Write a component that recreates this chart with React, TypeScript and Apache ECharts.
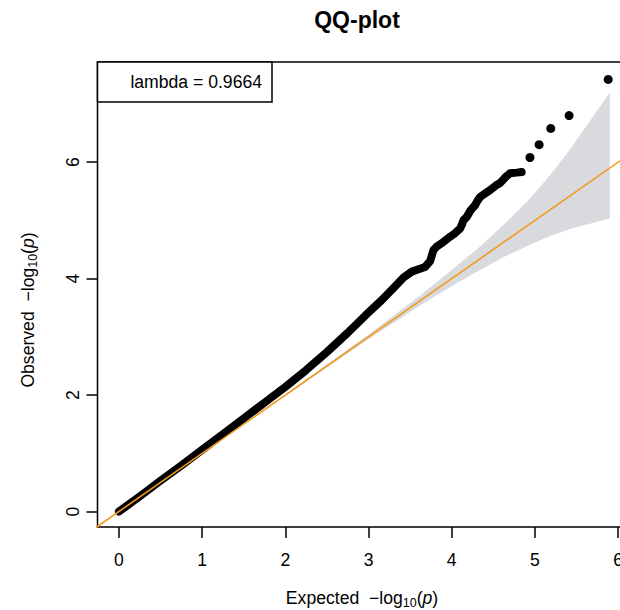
import React, { useEffect, useRef } from "react";
import * as echarts from "echarts";

// Observed vs expected -log10(p) (dense part of the QQ curve)
const obsX = [0, 0.25, 0.5, 0.75, 1.0, 1.25, 1.5, 1.75, 2.0, 2.25, 2.5, 2.75, 3.0, 3.15, 3.3, 3.42, 3.52, 3.6, 3.68, 3.74, 3.78, 3.82, 3.9, 3.98, 4.04, 4.1, 4.12, 4.14, 4.18, 4.23, 4.28, 4.31, 4.34, 4.4, 4.46, 4.54, 4.58, 4.65, 4.7, 4.78, 4.84];
const obsY = [0, 0.26, 0.53, 0.79, 1.06, 1.33, 1.6, 1.87, 2.14, 2.43, 2.74, 3.07, 3.42, 3.62, 3.84, 4.02, 4.12, 4.16, 4.2, 4.3, 4.49, 4.55, 4.63, 4.72, 4.78, 4.86, 4.92, 5.0, 5.06, 5.18, 5.26, 5.34, 5.4, 5.46, 5.52, 5.61, 5.64, 5.75, 5.81, 5.82, 5.83];
// Sparse top points
const tailX = [4.94, 5.05, 5.19, 5.41, 5.88];
const tailY = [6.08, 6.3, 6.58, 6.8, 7.42];
// 95% confidence band
const bandX = [1.5, 2.0, 2.6, 3.0, 3.6, 3.9, 4.31, 4.62, 4.95, 5.2, 5.42, 5.9];
const bandUp = [1.505, 2.012, 2.628, 3.042, 3.689, 4.031, 4.513, 4.919, 5.39, 5.809, 6.216, 7.197];
const bandLo = [1.495, 1.985, 2.574, 2.957, 3.519, 3.787, 4.128, 4.368, 4.59, 4.741, 4.854, 5.033];
// Reference line y = x
const refX = [-0.3, 6.6];
const xTicks = [0, 1, 2, 3, 4, 5, 6];
const yTicks = [0, 2, 4, 6];
const lambdaText = "lambda = 0.9664";
const titleText = "QQ-plot";

const FONT = "'Liberation Sans', Arial, sans-serif";

export default function App() {
  const ref = useRef<HTMLDivElement>(null);
  useEffect(() => {
    if (!ref.current) return;
    const chart = echarts.init(ref.current, null, { renderer: "svg" });
    const xMin = -0.258, xMax = 6.5, yMin = -0.266, yMax = 7.72;
    const pxX = 83.2;
    const gridLeft = 97.5, gridTop = 62, gridH = 465;
    const option: any = {
      animation: false,
      backgroundColor: "#fff",
      grid: {
        left: gridLeft,
        top: gridTop,
        width: (xMax - xMin) * pxX,
        height: gridH,
        show: true,
        borderColor: "#000",
        borderWidth: 1.5,
        backgroundColor: "transparent",
        containLabel: false,
      },
      xAxis: {
        type: "value",
        min: xMin,
        max: xMax,
        axisLine: { show: false, onZero: false },
        axisTick: { show: true, customValues: xTicks, length: 11, inside: false, lineStyle: { color: "#000", width: 1.5 } },
        axisLabel: { customValues: xTicks, margin: 24, fontSize: 17.6, color: "#000", fontFamily: FONT },
        splitLine: { show: false },
      },
      yAxis: {
        type: "value",
        min: yMin,
        max: yMax,
        axisLine: { show: false, onZero: false },
        axisTick: { show: true, customValues: yTicks, length: 11, inside: false, lineStyle: { color: "#000", width: 1.5 } },
        axisLabel: { customValues: yTicks, margin: 16, fontSize: 17.6, color: "#000", fontFamily: FONT, rotate: 90 },
        splitLine: { show: false },
      },
      series: [
        {
          type: "custom",
          z: 1,
          data: [0],
          renderItem: (params: any, api: any) => {
            const pts: number[][] = [];
            for (let i = 0; i < bandX.length; i++) pts.push(api.coord([bandX[i], bandUp[i]]));
            for (let i = bandX.length - 1; i >= 0; i--) pts.push(api.coord([bandX[i], bandLo[i]]));
            return { type: "polygon", shape: { points: pts }, style: { fill: "#D9DADD", stroke: "none" } };
          },
        },
        {
          type: "line",
          z: 2,
          data: obsX.map((x, i) => [x, obsY[i]]),
          showSymbol: false,
          symbol: "none",
          lineStyle: { color: "#000", width: 8, cap: "round", join: "round" },
        },
        {
          type: "scatter",
          z: 3,
          data: tailX.map((x, i) => [x, tailY[i]]),
          symbolSize: 9,
          itemStyle: { color: "#000", opacity: 1 },
        },
        {
          type: "line",
          z: 4,
          data: refX.map((x) => [x, x]),
          showSymbol: false,
          symbol: "none",
          lineStyle: { color: "#F39A1E", width: 1.6 },
        },
      ],
      graphic: [
        {
          type: "rect",
          z: 10,
          shape: { x: gridLeft, y: gridTop, width: 174.5, height: 40 },
          style: { fill: "#fff", stroke: "#000", lineWidth: 1.5 },
        },
        {
          type: "text",
          z: 11,
          x: 262,
          y: 82,
          style: { text: lambdaText, fontSize: 17.6, fontFamily: FONT, fill: "#000", align: "right", verticalAlign: "middle" },
        },
        {
          type: "text",
          x: 357,
          y: 20,
          style: { text: titleText, fontSize: 23, fontWeight: "bold", fontFamily: FONT, fill: "#000", align: "center", verticalAlign: "middle" },
        },
        {
          type: "text",
          x: 362,
          y: 598,
          style: {
            text: "{a|Expected  −log}{s|10}{a|(}{i|p}{a|)}",
            align: "center",
            verticalAlign: "middle",
            rich: {
              a: { fontSize: 17.6, fontFamily: FONT, fill: "#000", lineHeight: 22 },
              s: { fontSize: 12.5, fontFamily: FONT, fill: "#000", lineHeight: 12, verticalAlign: "bottom" },
              i: { fontSize: 17.6, fontFamily: FONT, fontStyle: "italic", fill: "#000", lineHeight: 22 },
            },
          },
        },
        {
          type: "text",
          x: 28,
          y: 310,
          rotation: Math.PI / 2,
          style: {
            text: "{a|Observed  −log}{s|10}{a|(}{i|p}{a|)}",
            align: "center",
            verticalAlign: "middle",
            rich: {
              a: { fontSize: 17.6, fontFamily: FONT, fill: "#000", lineHeight: 22 },
              s: { fontSize: 12.5, fontFamily: FONT, fill: "#000", lineHeight: 12, verticalAlign: "bottom" },
              i: { fontSize: 17.6, fontFamily: FONT, fontStyle: "italic", fill: "#000", lineHeight: 22 },
            },
          },
        },
      ],
    };
    chart.setOption(option);
    return () => chart.dispose();
  }, []);
  return (
    <div style={{ position: "fixed", left: 0, top: 0, width: 620, height: 610, overflow: "hidden", background: "#fff" }}>
      <div ref={ref} style={{ width: 700, height: 610 }} />
    </div>
  );
}
